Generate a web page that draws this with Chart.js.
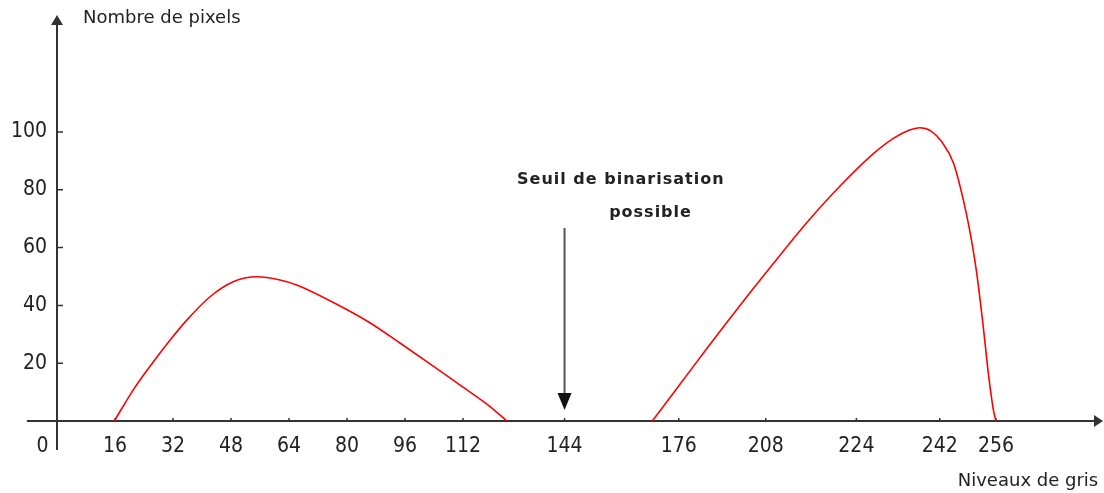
<!DOCTYPE html>
<html>
<head>
<meta charset="utf-8">
<script src="https://cdn.jsdelivr.net/npm/chart.js@4"></script>
<style>
  html, body { margin: 0; padding: 0; background: #fff; }
  #wrap { width: 1104px; height: 493px; }
</style>
</head>
<body>
<div id="wrap"><canvas id="chart"></canvas></div>
<script>
// x = position along the drawn axis; the grey-level labels are not evenly spaced on it
const tickPositions = [-4, 16, 32, 48, 64, 80, 96, 112, 140, 171.5, 195.5, 220.5, 243.5, 259];
const tickLabels = ['0', '16', '32', '48', '64', '80', '96', '112', '144', '176', '208', '224', '242', '256'];
const yTicks = [20, 40, 60, 80, 100];

// dark mode (left bump)
const darkX = [15.8, 21.0, 26.6, 31.2, 35.8, 42.2, 48.6, 55.1, 61.5, 66.1, 79.0, 86.3, 94.6, 102.9, 111.2, 118.5, 124.1];
const darkY = [0, 10.7, 20.5, 28.0, 34.9, 43.0, 48.2, 49.9, 48.8, 47.1, 39.2, 34.0, 27.0, 19.8, 12.4, 5.9, 0];

// light mode (right bump)
const lightX = [164.2, 171.9, 179.2, 188.4, 197.6, 206.8, 216.0, 225.2, 230.7, 235.0, 238.0, 241.0, 244.0, 247.3, 250.0, 251.9, 253.7, 255.5, 256.9, 258.3, 259.0];
const lightY = [0, 12.8, 25.0, 40.0, 54.5, 68.6, 81.3, 92.5, 97.8, 100.6, 101.5, 100.4, 96.7, 89.2, 76.5, 65.0, 51.1, 32.6, 16.5, 3.8, 0];

const thresholdPos = 140;   // under the "144" label
const axisColor = '#333';
const textColor = '#222';

const toPoints = (xs, ys) => xs.map((x, i) => ({ x, y: ys[i] }));

// hand-drawn style axes with arrows, tick marks, titles and the threshold arrow
const sketchAxes = {
  id: 'sketchAxes',
  beforeDatasetsDraw(chart) {
    const { ctx, scales: { x, y } } = chart;
    const x0 = x.getPixelForValue(0);
    const y0 = y.getPixelForValue(0);
    const xl = x.getPixelForValue(-8.3);
    const xr = x.getPixelForValue(x.max) + 3;
    const yt = y.getPixelForValue(y.max);
    const yb = y.getPixelForValue(-10);

    ctx.save();
    ctx.strokeStyle = axisColor;
    ctx.fillStyle = axisColor;
    ctx.lineWidth = 2;

    ctx.beginPath();
    ctx.moveTo(xl, y0);
    ctx.lineTo(xr - 6, y0);
    ctx.moveTo(x0, yb);
    ctx.lineTo(x0, yt + 8);
    ctx.stroke();

    // arrow heads
    ctx.beginPath();
    ctx.moveTo(xr, y0);
    ctx.lineTo(xr - 9, y0 - 6);
    ctx.lineTo(xr - 9, y0 + 6);
    ctx.closePath();
    ctx.fill();
    ctx.beginPath();
    ctx.moveTo(x0, yt);
    ctx.lineTo(x0 - 6, yt + 10);
    ctx.lineTo(x0 + 6, yt + 10);
    ctx.closePath();
    ctx.fill();

    // small tick marks
    ctx.lineWidth = 1.5;
    ctx.beginPath();
    x.ticks.forEach(t => {
      if (t.value <= 0) return;
      const px = x.getPixelForValue(t.value);
      ctx.moveTo(px, y0);
      ctx.lineTo(px, y0 - 3);
    });
    y.ticks.forEach(t => {
      const py = y.getPixelForValue(t.value);
      ctx.moveTo(x0, py);
      ctx.lineTo(x0 + 6, py);
    });
    ctx.stroke();
    ctx.restore();
  },
  afterDraw(chart) {
    const { ctx, scales: { x, y } } = chart;
    ctx.save();
    ctx.fillStyle = textColor;
    ctx.textBaseline = 'middle';

    ctx.font = '18px "DejaVu Sans", sans-serif';
    ctx.textAlign = 'left';
    ctx.fillText('Nombre de pixels', x.getPixelForValue(7.2), y.getPixelForValue(139.5));
    ctx.textAlign = 'right';
    ctx.fillText('Niveaux de gris', x.getPixelForValue(287.2), y.getPixelForValue(-20.8));

    ctx.font = 'bold 16px "DejaVu Sans", sans-serif';
    ctx.letterSpacing = '1px';
    ctx.textAlign = 'left';
    ctx.fillText('Seuil de binarisation', x.getPixelForValue(126.9), y.getPixelForValue(83.4));
    ctx.fillText('possible', x.getPixelForValue(152.3), y.getPixelForValue(72.0));
    ctx.letterSpacing = '0px';

    // threshold arrow
    const ax = x.getPixelForValue(thresholdPos);
    const aTop = y.getPixelForValue(66.8);
    const aTip = y.getPixelForValue(3.8);
    ctx.strokeStyle = '#555';
    ctx.lineWidth = 2;
    ctx.beginPath();
    ctx.moveTo(ax, aTop);
    ctx.lineTo(ax, aTip - 14);
    ctx.stroke();
    ctx.fillStyle = '#111';
    ctx.beginPath();
    ctx.moveTo(ax, aTip);
    ctx.lineTo(ax - 7, aTip - 17);
    ctx.lineTo(ax + 7, aTip - 17);
    ctx.closePath();
    ctx.fill();
    ctx.restore();
  }
};

const tickFont = { family: '"Liberation Sans Narrow", "DejaVu Sans Condensed", sans-serif', size: 21 };

new Chart(document.getElementById('chart'), {
  type: 'line',
  data: {
    datasets: [
      {
        label: 'Fond',
        data: toPoints(darkX, darkY),
        borderColor: '#ff0000',
        borderWidth: 1.6,
        pointRadius: 0,
        cubicInterpolationMode: 'monotone',
        fill: false,
      },
      {
        label: 'Objet',
        data: toPoints(lightX, lightY),
        borderColor: '#ff0000',
        borderWidth: 1.6,
        pointRadius: 0,
        cubicInterpolationMode: 'monotone',
        fill: false,
      },
    ],
  },
  options: {
    responsive: true,
    maintainAspectRatio: false,
    animation: false,
    layout: { padding: { top: 15, right: 4, left: 0, bottom: 0 } },
    scales: {
      x: {
        type: 'linear',
        min: 0,
        max: 287.7,
        grid: { display: false, drawTicks: false },
        border: { display: false },
        afterBuildTicks: (s) => { s.ticks = tickPositions.map(v => ({ value: v })); },
        afterFit: (s) => { s.height = 72; s.paddingLeft = 0; s.paddingRight = 0; },
        ticks: {
          autoSkip: false,
          maxRotation: 0,
          minRotation: 0,
          padding: 13,
          color: textColor,
          font: tickFont,
          callback: (value, i) => tickLabels[i],
        },
      },
      y: {
        type: 'linear',
        min: 0,
        max: 140.5,
        grid: { display: false, drawTicks: false },
        border: { display: false },
        afterBuildTicks: (s) => { s.ticks = yTicks.map(v => ({ value: v })); },
        afterFit: (s) => { s.width = 57; s.paddingTop = 0; s.paddingBottom = 0; },
        ticks: {
          padding: 10,
          color: textColor,
          font: tickFont,
          callback: (value) => String(value),
        },
      },
    },
    plugins: {
      legend: { display: false },
      tooltip: { enabled: false },
    },
  },
  plugins: [sketchAxes],
});
</script>
</body>
</html>
